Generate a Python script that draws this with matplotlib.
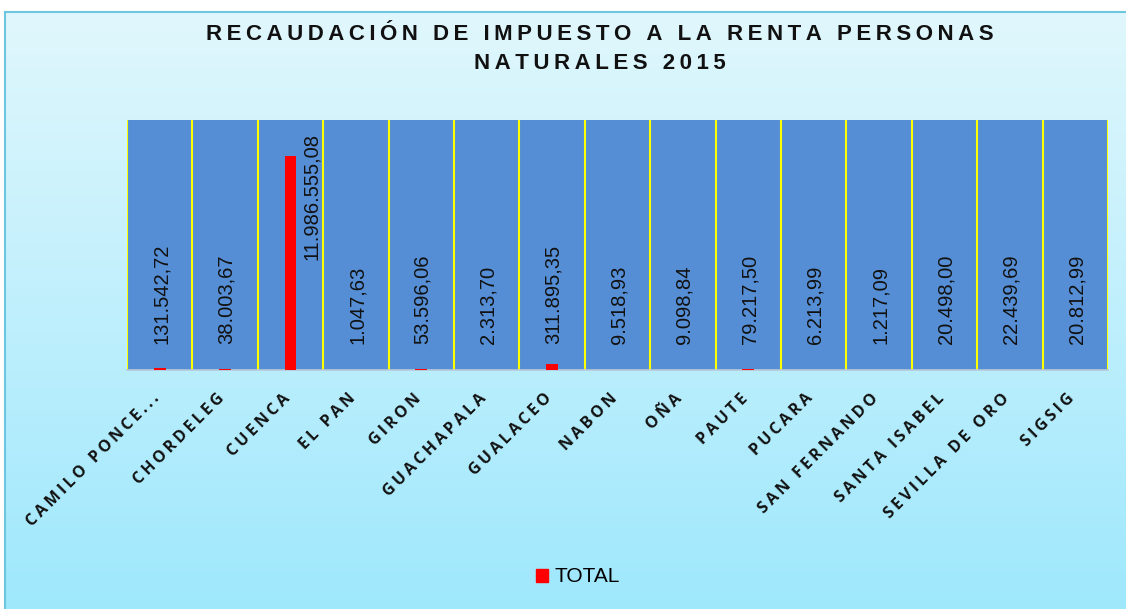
import numpy as np
import matplotlib.pyplot as plt
from matplotlib.patches import Patch

# Datos
municipios = ["CAMILO PONCE...", "CHORDELEG", "CUENCA", "EL PAN", "GIRON", "GUACHAPALA",
              "GUALACEO", "NABON", "OÑA", "PAUTE", "PUCARA", "SAN FERNANDO",
              "SANTA ISABEL", "SEVILLA DE ORO", "SIGSIG"]
total = [131542.72, 38003.67, 11986555.08, 1047.63, 53596.06, 2313.70,
         311895.35, 9518.93, 9098.84, 79217.50, 6213.99, 1217.09,
         20498.00, 22439.69, 20812.99]
serie = "TOTAL"
titulo = "RECAUDACIÓN DE IMPUESTO A LA RENTA PERSONAS\nNATURALES 2015"


def formato(v):
    # 11,986,555.08 -> 11.986.555,08
    return f"{v:,.2f}".replace(",", "X").replace(".", ",").replace("X", ".")


def espaciar(s, sep="\u2009"):
    return "\n".join(sep.join(linea) for linea in s.split("\n"))


fig = plt.figure(figsize=(11.26, 6.09), dpi=100)
fig.patch.set_facecolor("white")

# Fondo degradado del area del grafico
fondo = fig.add_axes([0, 0, 1, 1], zorder=-5)
top_c = np.array([0xe0, 0xf7, 0xfd]) / 255
bot_c = np.array([0x9f, 0xe8, 0xfc]) / 255
t = np.linspace(0, 1, 256)[:, None]
grad = top_c * (1 - t[..., None]) + bot_c * t[..., None]
grad = np.repeat(grad, 2, axis=1)
y_top = 1 - 12 / 609
x_left = 5 / 1126
fondo.imshow(grad, extent=[x_left, 1.01, 0, y_top], aspect="auto", origin="upper")
fondo.plot([x_left, 1.01], [y_top, y_top], color="#6cc6df", lw=1.5)
fondo.plot([x_left, x_left], [0, y_top], color="#6cc6df", lw=1.5)
fondo.set_xlim(0, 1)
fondo.set_ylim(0, 1)
fondo.axis("off")

ax = fig.add_axes([127 / 1126, 1 - 370 / 609, (1108 - 127) / 1126, 250 / 609])
ax.set_facecolor("#558ed5")
x = np.arange(len(municipios))
ax.bar(x, total, width=0.18, color="#ff0000", zorder=3, linewidth=0)
ax.set_xlim(-0.5, len(municipios) - 0.5)
ax.set_ylim(0, 14000000)
for b in np.arange(len(municipios) + 1) - 0.5:
    ax.axvline(b, color="#ffff00", lw=1.5, zorder=2)

for s in ["top", "left", "right"]:
    ax.spines[s].set_visible(False)
ax.spines["bottom"].set_color("#b8c8d8")
ax.spines["bottom"].set_linewidth(1.2)
ax.set_yticks([])
ax.set_xticks(x)
ax.set_xticklabels([espaciar(m) for m in municipios], rotation=45, ha="right", va="baseline",
                   rotation_mode="anchor", fontweight="bold", family=["Open Sans", "DejaVu Sans"],
                   fontsize=11.5, color="#111111")
ax.tick_params(axis="x", length=0, pad=21)

# Etiquetas de datos
maximo = max(total)
for i, v in enumerate(total):
    if v == maximo:
        ax.annotate(formato(v), (i, 14000000), xytext=(15, -9), textcoords="offset points",
                    rotation=90, ha="center", va="top", fontsize=14.5,
                    family="Liberation Sans", color="#111111", zorder=4)
    else:
        ax.annotate(formato(v), (i, 0), xytext=(1, 19), textcoords="offset points",
                    rotation=90, ha="center", va="bottom", fontsize=14.5,
                    family="Liberation Sans", color="#111111", zorder=4)

fig.text(600 / 1126, 1 - 49 / 609, espaciar(titulo), ha="center", va="center",
         fontsize=16, fontweight="bold", family="Liberation Sans",
         linespacing=1.45, color="#111111")

fig.legend(handles=[Patch(color="#ff0000", label=serie)], loc="center",
           bbox_to_anchor=(578 / 1126, 1 - 577 / 609), frameon=False,
           prop={"family": "Liberation Sans", "size": 15},
           handlelength=0.6, handleheight=0.6, handletextpad=0.3)

fig.savefig("out.png", dpi=100)
